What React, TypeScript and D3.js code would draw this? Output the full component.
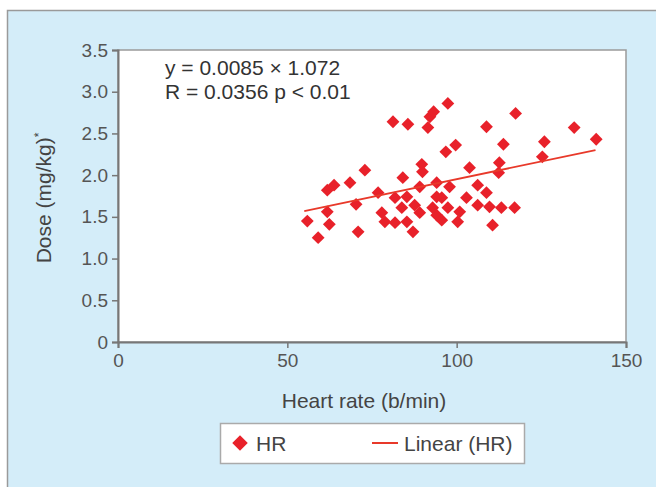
import React, { useEffect, useRef } from 'react';
import * as d3 from 'd3';

// heart rate (b/min) vs dose (mg/kg)
const heartRate = [
  55.9, 59.1, 62.4, 61.8, 61.8, 63.8, 68.5, 72.9, 70.3, 70.9, 76.8, 77.9, 78.8,
  81.2, 85.6, 92.1, 93.2, 91.5, 97.4, 96.8, 99.7, 89.7, 89.9, 84.1, 103.8,
  117.4, 108.8, 134.7, 141.2, 113.8, 125.9, 125.3, 112.6, 112.4, 97.9, 106.2,
  108.8, 102.9, 95.6, 97.4, 106.2, 109.7, 113.2, 117.1, 100.3, 110.6, 94.1,
  100.9, 89.1, 94.1, 85.3, 81.8, 81.8, 85.3, 87.1, 89.1, 87.6, 92.9, 95.6,
  83.8, 94.1,
];
const dose = [
  1.45, 1.25, 1.41, 1.56, 1.82, 1.88, 1.91, 2.06, 1.65, 1.32, 1.79, 1.55, 1.44,
  2.64, 2.61, 2.70, 2.76, 2.57, 2.86, 2.28, 2.36, 2.13, 2.04, 1.97, 2.09,
  2.74, 2.58, 2.57, 2.43, 2.37, 2.40, 2.22, 2.15, 2.03, 1.86, 1.88,
  1.79, 1.73, 1.73, 1.61, 1.64, 1.62, 1.61, 1.61, 1.44, 1.40, 1.52,
  1.56, 1.86, 1.74, 1.74, 1.73, 1.43, 1.44, 1.32, 1.55, 1.64, 1.61, 1.46,
  1.61, 1.91,
];

// linear trend line ends
const trendX = [55, 141];
const trendY = [1.57, 2.3];

const xTicks = [0, 50, 100, 150];
const yTicks = [0, 0.5, 1.0, 1.5, 2.0, 2.5, 3.0, 3.5];
const yTickLabels = ['0', '0.5', '1.0', '1.5', '2.0', '2.5', '3.0', '3.5'];

const equationLines = ['y = 0.0085 \u00d7 1.072', 'R = 0.0356 p < 0.01'];

const App = () => {
  const svgRef = useRef<SVGSVGElement>(null);

  useEffect(() => {
    const width = 656;
    const height = 487;
    const left = 118, right = 626, top = 50, bottom = 342;
    const font = 'Liberation Sans, Arial, sans-serif';
    const red = '#e8212a';

    const svg = d3.select(svgRef.current)
      .attr('width', width)
      .attr('height', height);
    svg.selectAll('*').remove();

    // panel
    svg.append('rect')
      .attr('x', 7.5).attr('y', 10.5)
      .attr('width', 670).attr('height', 500)
      .attr('fill', '#d4edf9')
      .attr('stroke', '#9a9a9a')
      .attr('stroke-width', 1.5);

    const x = d3.scaleLinear().domain([0, 150]).range([left, right]);
    const y = d3.scaleLinear().domain([0, 3.5]).range([bottom, top]);

    // plot area
    svg.append('rect')
      .attr('x', left).attr('y', top)
      .attr('width', right - left).attr('height', bottom - top)
      .attr('fill', '#fff')
      .attr('stroke', '#9a9a9a')
      .attr('stroke-width', 1.5);

    // y axis
    const yAxis = svg.append('g')
      .attr('transform', `translate(${left},0)`)
      .call(d3.axisLeft(y).tickValues(yTicks).tickSize(6).tickPadding(4)
        .tickFormat((d, i) => yTickLabels[i]));
    // x axis
    const xAxis = svg.append('g')
      .attr('transform', `translate(0,${bottom})`)
      .call(d3.axisBottom(x).tickValues(xTicks).tickSize(6).tickPadding(6)
        .tickFormat(d3.format('d')));

    [yAxis, xAxis].forEach(ax => {
      ax.select('.domain').attr('stroke', '#777').attr('stroke-width', 2);
      ax.selectAll('.tick line').attr('stroke', '#777').attr('stroke-width', 1.5);
      ax.selectAll('.tick text')
        .attr('fill', '#555')
        .style('font-family', font)
        .style('font-size', '19px');
    });

    // points
    const pts = heartRate.map((h, i) => ({ h, d: dose[i] }));
    const diamond = d3.symbol().type(d3.symbolSquare).size(82);
    svg.append('g')
      .selectAll('path')
      .data(pts)
      .enter()
      .append('path')
      .attr('d', diamond)
      .attr('transform', p => `translate(${x(p.h)},${y(p.d)}) rotate(45)`)
      .attr('fill', red);

    // trend
    const line = d3.line<number>()
      .x(v => x(v))
      .y((v, i) => y(trendY[i]));
    svg.append('path')
      .attr('d', line(trendX))
      .attr('fill', 'none')
      .attr('stroke', '#e8392a')
      .attr('stroke-width', 1.8);

    // equation
    svg.append('g')
      .selectAll('text')
      .data(equationLines)
      .enter()
      .append('text')
      .attr('x', 165)
      .attr('y', (d, i) => 75 + i * 24)
      .attr('fill', '#333')
      .style('font-family', font)
      .style('font-size', '21px')
      .text(d => d);

    // axis titles
    svg.append('text')
      .attr('x', 364)
      .attr('y', 408)
      .attr('text-anchor', 'middle')
      .attr('fill', '#444')
      .style('font-family', font)
      .style('font-size', '21px')
      .text('Heart rate (b/min)');

    const yt = svg.append('text')
      .attr('transform', `translate(51,198) rotate(-90)`)
      .attr('text-anchor', 'middle')
      .attr('fill', '#444')
      .style('font-family', font)
      .style('font-size', '21px');
    yt.append('tspan').text('Dose (mg/kg)');
    yt.append('tspan').attr('dy', -8).style('font-size', '12px').text('*');

    // legend
    const lg = svg.append('g');
    lg.append('rect')
      .attr('x', 220.5).attr('y', 423.5)
      .attr('width', 304).attr('height', 40)
      .attr('fill', '#fff')
      .attr('stroke', '#aaa')
      .attr('stroke-width', 1.5);
    lg.append('path')
      .attr('d', d3.symbol().type(d3.symbolSquare).size(120)())
      .attr('transform', 'translate(240,443) rotate(45)')
      .attr('fill', red);
    lg.append('text')
      .attr('x', 256).attr('y', 451)
      .attr('fill', '#444')
      .style('font-family', font)
      .style('font-size', '21px')
      .text('HR');
    lg.append('line')
      .attr('x1', 372).attr('x2', 398)
      .attr('y1', 443).attr('y2', 443)
      .attr('stroke', '#e8392a')
      .attr('stroke-width', 2);
    lg.append('text')
      .attr('x', 404).attr('y', 451)
      .attr('fill', '#444')
      .style('font-family', font)
      .style('font-size', '21px')
      .text('Linear (HR)');
  }, []);

  return (
    <svg ref={svgRef} style={{ position: 'absolute', left: 0, top: 0 }}></svg>
  );
};

export default App;
